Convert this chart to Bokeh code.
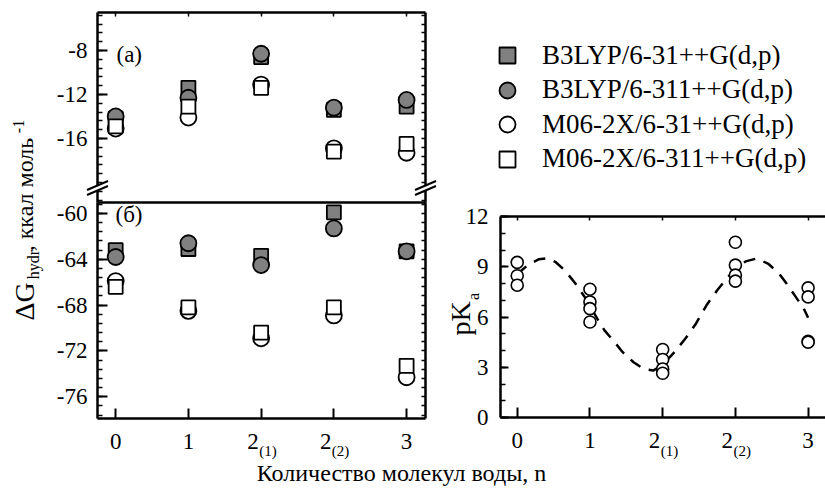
import math
from bokeh.plotting import figure
from bokeh.models import (Range1d, LinearAxis, FixedTicker, Label, Legend, LegendItem,
                          PolyAnnotation, Arrow)
from bokeh.embed import file_html
from bokeh.resources import INLINE

FONT = "Liberation Serif"
GREY = "#808080"

# ---------------- data ----------------
categories = ["0", "1", "2", "2", "3"]
category_subscripts = ["", "", "(1)", "(2)", ""]
xpos = [0, 1, 2, 3, 4]

methods = ["B3LYP/6-31++G(d,p)", "B3LYP/6-311++G(d,p)",
           "M06-2X/6-31++G(d,p)", "M06-2X/6-311++G(d,p)"]

# panel (а): upper part of dG_hydr
dg_a_b3lyp_631 = [-14.2, -11.4, -8.6, -13.4, -13.1]
dg_a_b3lyp_6311 = [-14.0, -12.3, -8.3, -13.2, -12.5]
dg_a_m06_631 = [-15.1, -14.1, -11.1, -16.9, -17.3]
dg_a_m06_6311 = [-14.9, -13.1, -11.4, -17.2, -16.5]

# panel (б): lower part of dG_hydr
dg_b_b3lyp_631 = [-63.2, -63.1, -63.7, -59.9, -63.3]
dg_b_b3lyp_6311 = [-63.8, -62.6, -64.5, -61.3, -63.3]
dg_b_m06_631 = [-65.9, -68.5, -70.9, -68.9, -74.3]
dg_b_m06_6311 = [-66.4, -68.2, -70.4, -68.2, -73.3]

# pKa panel
pka_x = [0, 0, 0, 1, 1, 1, 1, 2, 2, 2, 2, 3, 3, 3, 3, 4, 4, 4, 4]
pka_y = [9.26, 8.46, 7.9, 7.66, 6.9, 6.5, 5.7, 4.06, 3.46, 2.9, 2.64,
         10.46, 9.1, 8.5, 8.14, 7.74, 7.2, 4.55, 4.5]
trend_x = [0, 0.15, 0.3, 0.42, 0.53, 0.66, 0.8, 0.95, 1.1, 1.2, 1.33, 1.45, 1.6,
           1.74, 1.87, 2.0, 2.17, 2.31, 2.45, 2.61, 2.75, 2.9, 3.0, 3.14, 3.3,
           3.46, 3.6, 3.72, 3.83, 3.94, 4.0]
trend_y = [8.55, 9.12, 9.45, 9.5, 9.27, 8.76, 8.0, 7.05, 5.9, 5.2, 4.55, 3.9, 3.3,
           2.9, 2.8, 3.15, 3.94, 4.7, 5.55, 6.75, 7.6, 8.4, 8.85, 9.32, 9.5,
           9.15, 8.6, 7.9, 7.2, 6.5, 5.95]

# ---------------- layout constants (pixels) ----------------
W, H = 825, 489
LX = (-0.25, 4.26)          # left panels x range, frame px 97..425
TY = (-21.82, -4.55)        # panel (а) y range, frame py 202..12
BY = (-77.9, -59.04)        # panel (б) y range, frame py 418..202
PX = (-0.23, 4.239)         # pKa x range, frame px 500..825
PY = (0, 12)                # pKa y range, frame py 417..216
legend_rows = [55, 89.5, 124, 158.5]

p = figure(width=W, height=H, x_range=Range1d(0, W), y_range=Range1d(H, 0),
           x_axis_type=None, y_axis_type=None, output_backend="svg",
           toolbar_location=None, min_border=0)
p.outline_line_color = None


def xr_for(d0, d1, p0, p1):
    s = (p1 - p0) / (d1 - d0)
    return Range1d(d0 - p0 / s, d0 + (W - p0) / s)


def yr_for(dbot, dtop, pbot, ptop):
    s = (pbot - ptop) / (dtop - dbot)
    return Range1d(dbot - (H - pbot) / s, dtop + ptop / s)


p.extra_x_ranges = {"lx": xr_for(LX[0], LX[1], 97, 425), "px": xr_for(PX[0], PX[1], 500, 825)}
p.extra_y_ranges = {"ty": yr_for(TY[0], TY[1], 202, 12),
                    "by": yr_for(BY[0], BY[1], 418, 202),
                    "py": yr_for(PY[0], PY[1], 417, 216)}


def add_axis(side, xname, yname, loc, bounds, ticks=(), minor=(), tick_in=0, minor_in=0,
             overrides=None, standoff=0, size="23px"):
    ax = LinearAxis(x_range_name=xname, y_range_name=yname, fixed_location=loc, bounds=bounds,
                    ticker=FixedTicker(ticks=list(ticks), minor_ticks=list(minor)))
    ax.axis_line_width = 2.5
    ax.axis_line_color = "black"
    ax.major_tick_in = tick_in
    ax.major_tick_out = 0
    ax.minor_tick_in = minor_in
    ax.minor_tick_out = 0
    ax.major_tick_line_width = 2
    ax.minor_tick_line_width = 1.5
    ax.major_label_standoff = standoff
    ax.major_label_text_font = FONT
    ax.major_label_text_font_size = size
    ax.major_label_text_color = "black"
    if overrides:
        ax.major_label_overrides = overrides
    p.add_layout(ax, side)
    return ax


def txt(x, y, text, size, align="left", baseline="alphabetic", angle=0.0):
    p.add_layout(Label(x=x, y=y, text=text, text_font=FONT, text_font_size=size,
                       text_align=align, text_baseline=baseline, angle=angle,
                       text_color="black"))


def vtxt(x, y, text, size):
    # vertical text reading upwards, anchored at its centre
    txt(x, y, text, size, align="center", baseline="middle", angle=math.pi / 2)


def hy(ticks):
    return {t: str(t) for t in ticks}


# tick labels that carry a subscript are padded on the right so that "2" + "(n)" sits centred
x_over = {i: (c + "\u2002\u2009" if s else c)
          for i, c, s in zip(xpos, categories, category_subscripts)}
styles = [("square", 14, GREY), ("circle", 16, GREY), ("circle", 16, "white"), ("square", 14, "white")]

top_major = [-16, -12, -8]
top_minor = [round(-8 + 0.8 * k, 2) for k in range(-17, 5)]
bot_major = [-76, -72, -68, -64, -60]
bot_minor = [round(-60 + 0.8 * k, 2) for k in range(-22, 2)]

# ---------------- panel (а) ----------------
add_axis("left", "lx", "ty", LX[0], TY, top_major, top_minor, 10, 5, overrides=hy(top_major), standoff=10)
add_axis("right", "lx", "ty", LX[1], TY, [], top_major + top_minor, 0, 4)
add_axis("above", "lx", "ty", TY[1], LX, [], xpos, 0, 4)
top_renderers = []
for vals, (m, s, fc) in zip([dg_a_b3lyp_631, dg_a_b3lyp_6311, dg_a_m06_631, dg_a_m06_6311], styles):
    r = p.scatter(xpos, vals, marker=m, size=s, fill_color=fc, line_color="black", line_width=1.8,
                  x_range_name="lx", y_range_name="ty")
    top_renderers.append(r)
txt(116, 54, "(а)", "23px", baseline="middle")

# ---------------- panel (б) ----------------
add_axis("left", "lx", "by", LX[0], BY, bot_major, bot_minor, 10, 5, overrides=hy(bot_major), standoff=10)
add_axis("right", "lx", "by", LX[1], BY, [], bot_major + bot_minor, 0, 4)
add_axis("above", "lx", "by", BY[1], LX)
add_axis("below", "lx", "by", BY[0], LX, xpos, [], 10, 0, overrides=x_over, standoff=10)
for vals, (m, s, fc) in zip([dg_b_b3lyp_631, dg_b_b3lyp_6311, dg_b_m06_631, dg_b_m06_6311], styles):
    p.scatter(xpos, vals, marker=m, size=s, fill_color=fc, line_color="black", line_width=1.8,
              x_range_name="lx", y_range_name="by")
txt(115, 213.5, "(б)", "23px", baseline="middle")

# axis breaks
cy = 187.5
for cx in (97, 425):
    p.add_layout(PolyAnnotation(xs=[cx - 4, cx + 4, cx + 4, cx - 4],
                                ys=[cy - 0.8, cy - 4.2, cy + 0.8, cy + 4.2],
                                fill_color="white", fill_alpha=1.0, line_color=None,
                                level="overlay"))
    for dy in (-2.5, 2.5):
        p.add_layout(Arrow(end=None, x_start=cx - 10.5, y_start=cy + dy + 4.5,
                           x_end=cx + 10.5, y_end=cy + dy - 4.5,
                           line_width=2, line_color="black", level="overlay"))

# ---------------- legend ----------------
for name, r, ry in zip(methods, top_renderers, legend_rows):
    lg = Legend(items=[LegendItem(label=name, renderers=[r])], location=(487, H - (ry + 20)),
                glyph_width=40, glyph_height=40, label_standoff=15, padding=0, margin=0,
                border_line_color=None, background_fill_alpha=0,
                label_text_font=FONT, label_text_font_size="27px", label_text_color="black")
    p.add_layout(lg)

# ---------------- pKa panel ----------------
add_axis("left", "px", "py", PX[0], PY, [0, 3, 6, 9, 12], list(range(0, 13)), 8, 5, standoff=12)
add_axis("above", "px", "py", PY[1], PX, [], xpos, 0, 4)
add_axis("below", "px", "py", PY[0], PX, xpos, [], 10, 0, overrides=x_over, standoff=10)
p.line(trend_x, trend_y, line_dash="12 9", line_width=2.5, line_color="black",
       x_range_name="px", y_range_name="py")
p.scatter(pka_x, pka_y, marker="circle", size=12, fill_color="white", line_color="black",
          line_width=1.6, x_range_name="px", y_range_name="py")
vtxt(460, 318, "pK", "28px")
vtxt(473, 296, "a", "16px")

# category subscripts right after the "2" tick labels
for xp, sub in zip(xpos, category_subscripts):
    if sub:
        txt(97 + (xp - LX[0]) * 328 / (LX[1] - LX[0]) - 2, 450, sub, "15px")
        txt(500 + (xp - PX[0]) * 325 / (PX[1] - PX[0]) - 2, 450, sub, "15px")

# ---------------- axis titles ----------------
vtxt(23.5, 301, "ΔG", "28px")
vtxt(32.5, 264, "hydr", "16px")
vtxt(24.8, 194, ", ккал моль", "24px")
vtxt(17.6, 126, "-1", "16px")
txt(401, 472, "Количество молекул воды, n", "24px", align="center")

with open("out.html", "w") as f:
    f.write(file_html(p, INLINE))
